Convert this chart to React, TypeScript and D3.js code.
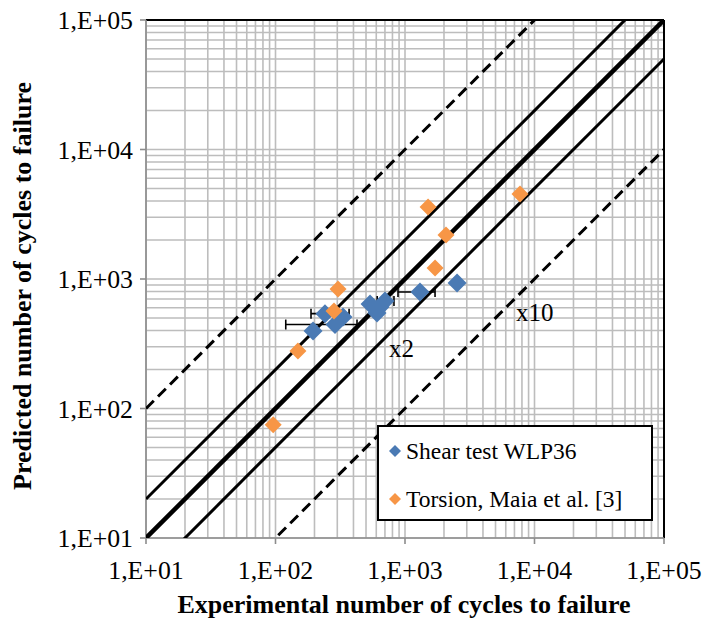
import React from "react";
import * as d3 from "d3";

const W = 702;
const H = 624;
const M = { left: 146, right: 664, top: 20, bottom: 538 };

const majorTicks = [1e1, 1e2, 1e3, 1e4, 1e5];
const tickLabels = ["1,E+01", "1,E+02", "1,E+03", "1,E+04", "1,E+05"];

// Shear test WLP36: experimental, predicted
const shearExp = [195, 241, 288, 332, 537, 608, 641, 701, 1306, 2523];
const shearPred = [397, 540, 445, 509, 641, 546, 608, 676, 794, 931];
// horizontal error bars: [index, low, high]
const shearErrIdx = [2, 1, 7, 8];
const shearErrLow = [120, 188, 610, 883];
const shearErrHigh = [426, 370, 822, 1706];

// Torsion, Maia et al. [3]
const torsionExp = [96, 149, 283, 304, 1507, 1706, 2074, 7730];
const torsionPred = [75, 278, 566, 837, 3597, 1216, 2188, 4530];

// reference lines: factor, style
const lineFactors = [1, 2, 0.5, 10, 0.1];
const lineKinds = ["thick", "solid", "solid", "dash", "dash"];

const serif = "Liberation Serif, Times New Roman, serif";

export default function App() {
  const x = d3.scaleLog().domain([10, 1e5]).range([M.left, M.right]);
  const y = d3.scaleLog().domain([10, 1e5]).range([M.bottom, M.top]);

  const minor: number[] = [];
  for (let e = 1; e < 5; e++) for (let m = 2; m <= 9; m++) minor.push(m * Math.pow(10, e));

  const diamond = (cx: number, cy: number, r: number) =>
    `M${cx},${cy - r}L${cx + r},${cy}L${cx},${cy + r}L${cx - r},${cy}Z`;

  const gridColor = "#bdbdbd";

  return (
    <svg
      width={W}
      height={H}
      style={{ position: "absolute", left: 0, top: 0, background: "#fff", fontFamily: serif }}
    >
      <defs>
        <clipPath id="plot">
          <rect x={M.left} y={M.top} width={M.right - M.left} height={M.bottom - M.top} />
        </clipPath>
      </defs>
      {/* grid */}
      <g stroke={gridColor} strokeWidth={1.6}>
        {minor.concat(majorTicks).map((v, i) => (
          <g key={i}>
            <line x1={x(v)} x2={x(v)} y1={M.top} y2={M.bottom} />
            <line x1={M.left} x2={M.right} y1={y(v)} y2={y(v)} />
          </g>
        ))}
      </g>
      {/* border top/right */}
      <line x1={M.left} x2={M.right} y1={M.top} y2={M.top} stroke="#000" strokeWidth={2} />
      <line x1={M.right} x2={M.right} y1={M.top} y2={M.bottom} stroke="#000" strokeWidth={2} />
      {/* axes */}
      <g stroke="#8c8c8c" strokeWidth={1.6}>
        <line x1={M.left} x2={M.left} y1={M.top} y2={M.bottom} />
        <line x1={M.left} x2={M.right} y1={M.bottom} y2={M.bottom} />
        {majorTicks.map((v, i) => (
          <g key={i}>
            <line x1={M.left - 6} x2={M.left} y1={y(v)} y2={y(v)} />
            <line x1={x(v)} x2={x(v)} y1={M.bottom} y2={M.bottom + 6} />
          </g>
        ))}
      </g>
      {/* reference lines */}
      <g clipPath="url(#plot)" fill="none" stroke="#000">
        {lineFactors.map((f, i) => {
          const kind = lineKinds[i];
          const x0 = 10, x1 = 1e5;
          return (
            <line
              key={i}
              x1={x(x0)}
              y1={y(x0 * f)}
              x2={x(x1)}
              y2={y(x1 * f)}
              strokeWidth={kind === "thick" ? 4.5 : 3}
              strokeDasharray={kind === "dash" ? "11,6" : undefined}
            />
          );
        })}
      </g>
      {/* error bars */}
      <g stroke="#000" strokeWidth={1.6}>
        {shearErrIdx.map((idx, i) => {
          const cy = y(shearPred[idx]);
          const a = x(shearErrLow[i]);
          const b = x(shearErrHigh[i]);
          return (
            <g key={i}>
              <line x1={a} x2={b} y1={cy} y2={cy} />
              <line x1={a} x2={a} y1={cy - 5} y2={cy + 5} />
              <line x1={b} x2={b} y1={cy - 5} y2={cy + 5} />
            </g>
          );
        })}
      </g>
      {/* points */}
      <g fill="#4a7ab4">
        {shearExp.map((v, i) => (
          <path key={i} d={diamond(x(v), y(shearPred[i]), 9.5)} />
        ))}
      </g>
      <g fill="#f79646">
        {torsionExp.map((v, i) => (
          <path key={i} d={diamond(x(v), y(torsionPred[i]), 8.5)} />
        ))}
      </g>
      {/* annotations */}
      <text x={389} y={357} fontSize={25}>x2</text>
      <text x={516} y={321} fontSize={25}>x10</text>
      {/* legend */}
      <rect x={378} y={426} width={274} height={94} fill="#fff" stroke="#000" strokeWidth={2} />
      <path d={diamond(395, 451, 6)} fill="#4a7ab4" />
      <text x={406} y={459} fontSize={23.5}>Shear test WLP36</text>
      <path d={diamond(395, 499, 6)} fill="#f79646" />
      <text x={406} y={507} fontSize={23.5}>Torsion, Maia et al. [3]</text>
      {/* tick labels */}
      <g fontSize={25.8}>
        {majorTicks.map((v, i) => (
          <text key={"y" + i} x={133} y={y(v) + 9} textAnchor="end">
            {tickLabels[i]}
          </text>
        ))}
        {majorTicks.map((v, i) => (
          <text key={"x" + i} x={x(v)} y={579} textAnchor="middle">
            {tickLabels[i]}
          </text>
        ))}
      </g>
      {/* axis titles */}
      <text x={404} y={613} fontSize={26} fontWeight="bold" textAnchor="middle">
        Experimental number of cycles to failure
      </text>
      <text
        transform={`translate(31,286) rotate(-90)`}
        fontSize={26}
        fontWeight="bold"
        textAnchor="middle"
      >
        Predicted number of cycles to failure
      </text>
    </svg>
  );
}
